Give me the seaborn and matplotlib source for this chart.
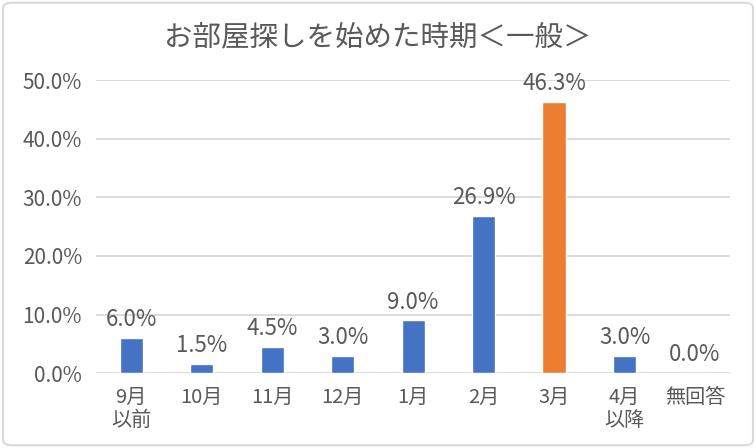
import matplotlib.pyplot as plt
import seaborn as sns
import pandas as pd
from matplotlib.patches import FancyBboxPatch
from matplotlib.ticker import FuncFormatter

# Data
categories = ['9月\n以前', '10月', '11月', '12月', '1月', '2月', '3月', '4月\n以降', '無回答']
shares = [6.0, 1.5, 4.5, 3.0, 9.0, 26.9, 46.3, 3.0, 0.0]
highlight = '3月'

data = pd.DataFrame({'month': categories, 'share': shares})
palette = {c: ('#ED7D31' if c == highlight else '#4472C4') for c in categories}

sns.set_style('white')
plt.rcParams['font.family'] = ['Noto Sans CJK JP', 'DejaVu Sans']
text_color = '#595959'

fig = plt.figure(figsize=(7.56, 4.48), dpi=100)
ax = fig.add_axes([0.127, 0.167, 0.839, 0.654])

sns.barplot(data=data, x='month', y='share', hue='month', palette=palette,
            width=0.33, legend=False, ax=ax, saturation=1)

ax.set_ylim(0, 50)
ax.set_yticks([0, 10, 20, 30, 40, 50])
ax.yaxis.set_major_formatter(FuncFormatter(lambda v, _: f'{v:.1f}%'))
ax.grid(axis='y', color='#D9D9D9', linewidth=1.3)
ax.set_axisbelow(True)
for side in ['top', 'right', 'left', 'bottom']:
    ax.spines[side].set_visible(False)
ax.tick_params(axis='y', length=0, labelsize=15, colors=text_color, pad=10)
ax.tick_params(axis='x', length=0, labelsize=14.5, colors=text_color, pad=10)
for lbl in ax.get_xticklabels():
    lbl.set_linespacing(1.1)
ax.set_xlabel('')
ax.set_ylabel('')

# Value labels
for i, v in enumerate(shares):
    ax.annotate(f'{v:.1f}%', (i, v), xytext=(0, 5), textcoords='offset points',
                ha='center', va='bottom', fontsize=16, color=text_color)

fig.text(0.5, 0.915, 'お部屋探しを始めた時期＜一般＞', ha='center', va='center',
         fontsize=20.5, color=text_color)

# Rounded chart border
border = FancyBboxPatch((0.004, 0.006), 0.992, 0.988, boxstyle='round,pad=0,rounding_size=0.012',
                        transform=fig.transFigure, fill=False, edgecolor='#D9D9D9', linewidth=1.5)
fig.patches.append(border)

fig.savefig('out.png', dpi=100)
